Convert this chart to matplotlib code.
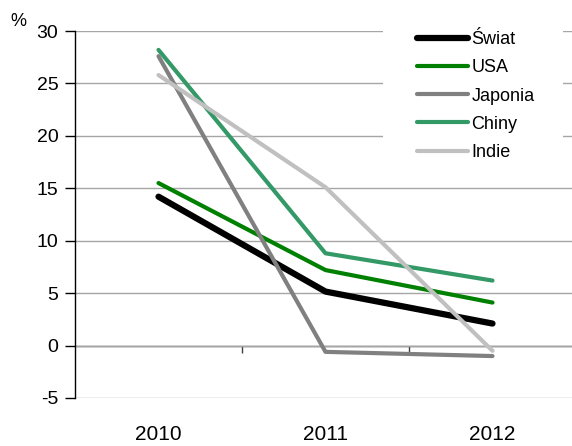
import matplotlib
matplotlib.use("Agg")
import matplotlib.pyplot as plt
import matplotlib.transforms as mtransforms
from matplotlib.patches import Rectangle

plt.rcParams['font.family'] = ['Liberation Sans', 'DejaVu Sans']
plt.rcParams['axes.unicode_minus'] = False

# dane
lata = ['2010', '2011', '2012']
swiat = [14.2, 5.15, 2.1]
usa = [15.5, 7.2, 4.1]
japonia = [27.6, -0.6, -1.0]
chiny = [28.2, 8.8, 6.2]
indie = [25.8, 15.1, -0.5]

serie = [
    ('Świat', swiat, '#000000', 4.5),
    ('USA', usa, '#008000', 3.0),
    ('Japonia', japonia, '#808080', 3.0),
    ('Chiny', chiny, '#339966', 3.0),
    ('Indie', indie, '#c0c0c0', 3.0),
]

W, H = 572, 446
fig = plt.figure(figsize=(W / 100, H / 100), dpi=100)
ax = fig.add_axes([75 / W, (H - 398) / H, (W - 75) / W, 367 / H])

x = list(range(len(lata)))
for nazwa, wart, kolor, lw in serie:
    ax.plot(x, wart, color=kolor, lw=lw, label=nazwa, solid_capstyle='round', zorder=3)

ax.set_ylim(-5, 30)
ax.set_xlim(-0.5, -0.5 + (W - 75) / 167)
ax.set_yticks(range(-5, 31, 5))
ax.yaxis.grid(True, color='#a6a6a6', lw=1)
ax.set_axisbelow(True)
ax.tick_params(axis='y', direction='out', length=7, width=1, labelsize=14, pad=5)

for s in ['top', 'right']:
    ax.spines[s].set_visible(False)
ax.spines['left'].set_linewidth(1)
ax.spines['bottom'].set_position(('data', 0))
ax.spines['bottom'].set_color('#404040')
ax.spines['bottom'].set_linewidth(1)
ax.spines['bottom'].set_zorder(0.5)

ax.set_xticks([0.5, 1.5])
ax.set_xticklabels([])
ax.tick_params(axis='x', direction='out', length=5, width=1, color='#404040')

trans = mtransforms.blended_transform_factory(ax.transData, ax.transAxes)
for i, lab in enumerate(lata):
    ax.text(i, -0.1, lab, transform=trans, ha='center', va='center', fontsize=15)

fig.text(18 / W, (H - 22) / H, '%', ha='center', va='center', fontsize=13)

# biale tlo legendy
ax.add_patch(Rectangle((383 / W, (H - 176) / H), 180 / W, 154 / H,
                       transform=fig.transFigure, facecolor='white',
                       edgecolor='none', zorder=1))

leg = ax.legend(loc='upper left', bbox_to_anchor=(410 / W, (H - 24) / H),
                bbox_transform=fig.transFigure, frameon=False,
                fontsize=13, handlelength=2.8, handletextpad=0.2,
                labelspacing=0.62, borderpad=0.4, borderaxespad=0)
for ln in leg.get_lines():
    ln.set_solid_capstyle('round')

fig.savefig('out.png', dpi=100)
